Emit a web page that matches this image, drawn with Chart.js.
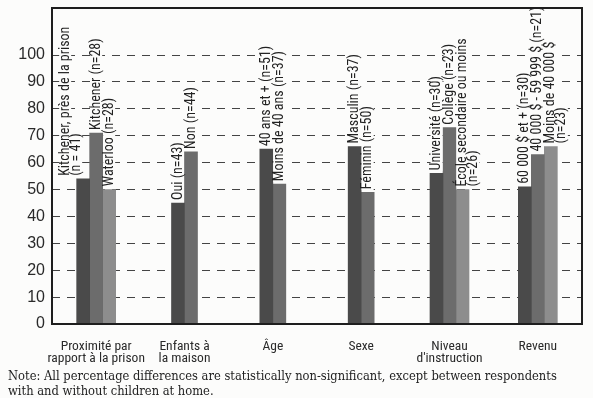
<!DOCTYPE html>
<html><head><meta charset="utf-8">
<script src="https://cdn.jsdelivr.net/npm/chart.js@4.4.0/dist/chart.umd.min.js"></script>
<style>
html,body{margin:0;padding:0;background:#fcfcfb;}
#wrap{position:relative;width:593px;height:398px;overflow:hidden;}
canvas{position:absolute;left:0;top:0;}
#note{position:absolute;left:8px;top:368px;font-family:"DejaVu Serif",serif;font-stretch:condensed;font-size:12.8px;line-height:15px;color:#222;white-space:nowrap;}
</style></head>
<body><div id="wrap"><canvas id="c" width="593" height="398"></canvas>
<div id="note">Note: All percentage differences are statistically non-significant, except between respondents<br>with and without children at home.</div></div>
<script>
const categories = [["Proximité par","rapport à la prison"],["Enfants à","la maison"],["Âge"],["Sexe"],["Niveau","d'instruction"],["Revenu"]];
const firstValues  = [54, 45, 65, 66, 56, 51];
const secondValues = [71, 64, 52, 49, 73, 63];
const thirdValues  = [50, null, null, null, 50, 66];
const firstLabels  = [["Kitchener, près de la prison","(n = 41)"],["Oui (n=43)"],["40 ans et + (n=51)"],["Masculin (n=37)"],["Université (n=30)"],["60 000 $ et + (n=30)"]];
const secondLabels = [["Kitchener (n=28)"],["Non (n=44)"],["Moins de 40 ans (n=37)"],["Féminin (n=50)"],["Collège (n=23)"],["40 000 $ - 59 999 $ (n=21)"]];
const thirdLabels  = [["Waterloo (n=28)"],null,null,null,["École secondaire ou moins","(n=26)"],["Moins de 40 000 $","(n=23)"]];
const yTicks = [0,10,20,30,40,50,60,70,80,90,100];

const NARROW = '"Roboto Condensed","DejaVu Sans Condensed",sans-serif';
const allLabels = [firstLabels, secondLabels, thirdLabels];

const labelPlugin = {
  id: 'barLabels',
  afterDatasetsDraw(chart) {
    const ctx = chart.ctx, a = chart.chartArea;
    ctx.save();
    ctx.beginPath(); ctx.rect(a.left, a.top, a.right - a.left, a.bottom - a.top); ctx.clip();
    ctx.font = '14px ' + NARROW;
    ctx.textBaseline = 'middle'; ctx.textAlign = 'left';
    const items = [];
    chart.data.datasets.forEach((ds, di) => {
      const meta = chart.getDatasetMeta(di);
      meta.data.forEach((bar, i) => {
        const lines = allLabels[di][i];
        if (!lines || ds.data[i] == null) return;
        const lh = 11;
        const start = (di === 0 && lines.length > 1) ? bar.x - 7 - (lines.length - 1) * lh : bar.x;
        lines.forEach((t, k) => items.push({t, x: start + k * lh, y: bar.y - 3, w: ctx.measureText(t).width}));
      });
    });
    ctx.fillStyle = '#fcfcfb';
    items.forEach(o => { ctx.save(); ctx.translate(o.x, o.y); ctx.rotate(-Math.PI/2); ctx.fillRect(-1, -6, o.w + 2, 12); ctx.restore(); });
    ctx.fillStyle = '#222';
    items.forEach(o => { ctx.save(); ctx.translate(o.x, o.y); ctx.rotate(-Math.PI/2); ctx.fillText(o.t, 0, 0); ctx.restore(); });
    ctx.restore();
  }
};
const framePlugin = {
  id: 'frame',
  afterDraw(chart) {
    const ctx = chart.ctx, a = chart.chartArea;
    ctx.save();
    ctx.strokeStyle = '#1e1e1e'; ctx.lineWidth = 2;
    ctx.strokeRect(a.left, a.top, a.right - a.left, a.bottom - a.top);
    ctx.restore();
  }
};

new Chart(document.getElementById('c'), {
  type: 'bar',
  data: {
    labels: categories,
    datasets: [
      {data: firstValues, backgroundColor: '#4a4a4a'},
      {data: secondValues, backgroundColor: '#6c6c6c'},
      {data: thirdValues, backgroundColor: '#8d8d8d'}
    ]
  },
  options: {
    responsive: false, animation: false, devicePixelRatio: 1,
    layout: {padding: {top: 8, right: 11, left: 0, bottom: 0}},
    datasets: {bar: {barThickness: 13, skipNull: true, borderWidth: 0}},
    plugins: {legend: {display: false}, tooltip: {enabled: false}},
    scales: {
      x: {
        grid: {display: false}, border: {display: false},
        ticks: {font: {family: NARROW, size: 13.5, lineHeight: 0.85}, color: '#2a2a2a', maxRotation: 0, autoSkip: false, padding: 9},
        afterFit(s) { s.height = 74; s.paddingLeft = 0; s.paddingRight = 0; }
      },
      y: {
        min: 0, max: 117.5,
        afterBuildTicks(s) { s.ticks = yTicks.map(v => ({value: v})); },
        grid: {color: '#444', lineWidth: 1, drawTicks: false},
        border: {display: false, dash: [8, 7]},
        ticks: {font: {family: '"Liberation Sans",Arial,sans-serif', size: 16}, color: '#2a2a2a', padding: 7},
        afterFit(s) { s.width = 52; s.paddingTop = 0; s.paddingBottom = 0; }
      }
    }
  },
  plugins: [labelPlugin, framePlugin]
});
</script></body></html>
